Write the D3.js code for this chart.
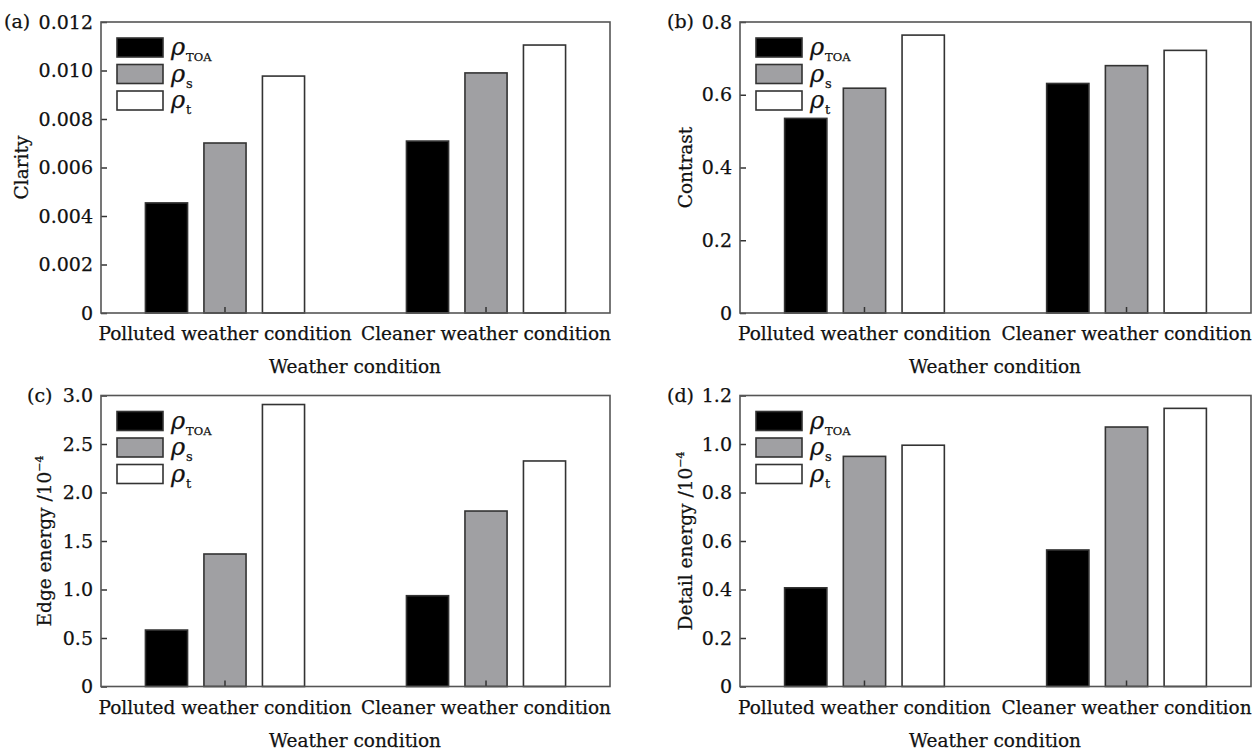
<html>
<head>
  <title>Weather condition bar charts</title>
  <script src="https://d3js.org/d3.v7.min.js"></script>
  <style>
    body { margin: 0; background: #fff; }
    text { font-family: 'DejaVu Serif', serif; fill: #111; stroke: #111; stroke-width: 0.25px; }
  </style>
</head>
<body>
<svg id="chart" width="1260" height="751"></svg>
<script>

// data
var categories = ["Polluted weather condition", "Cleaner weather condition"];
var seriesKeys = ["TOA", "s", "t"];
var seriesFill = ["#000000", "#a0a0a3", "#ffffff"];

// values per category: [rho_TOA, rho_s, rho_t]
var clarityValues  = [[0.00454, 0.00701, 0.00977], [0.00709, 0.00990, 0.01105]];
var contrastValues = [[0.535, 0.618, 0.764], [0.631, 0.680, 0.722]];
var edgeValues     = [[0.582, 1.366, 2.907], [0.936, 1.809, 2.325]];
var detailValues   = [[0.407, 0.949, 0.995], [0.563, 1.070, 1.147]];

var clarityTicks  = [0, 0.002, 0.004, 0.006, 0.008, 0.010, 0.012];
var clarityLabels = ["0", "0.002", "0.004", "0.006", "0.008", "0.010", "0.012"];
var contrastTicks  = [0, 0.2, 0.4, 0.6, 0.8];
var contrastLabels = ["0", "0.2", "0.4", "0.6", "0.8"];
var edgeTicks  = [0, 0.5, 1.0, 1.5, 2.0, 2.5, 3.0];
var edgeLabels = ["0", "0.5", "1.0", "1.5", "2.0", "2.5", "3.0"];
var detailTicks  = [0, 0.2, 0.4, 0.6, 0.8, 1.0, 1.2];
var detailLabels = ["0", "0.2", "0.4", "0.6", "0.8", "1.0", "1.2"];

var svg = d3.select("#chart");

// layout of the four panels
var panels = [
  {tag: "(a)", values: clarityValues, ticks: clarityTicks, labels: clarityLabels, title: "Clarity", sup: null,
   left: 101, top: 22, w: 509, h: 291, tagX: 4, titleX: 22},
  {tag: "(b)", values: contrastValues, ticks: contrastTicks, labels: contrastLabels, title: "Contrast", sup: null,
   left: 740, top: 22, w: 511, h: 291, tagX: 667, titleX: 686},
  {tag: "(c)", values: edgeValues, ticks: edgeTicks, labels: edgeLabels, title: "Edge energy /10", sup: "\u22124",
   left: 101, top: 395.5, w: 509, h: 291, tagX: 27, titleX: 45},
  {tag: "(d)", values: detailValues, ticks: detailTicks, labels: detailLabels, title: "Detail energy /10", sup: "\u22124",
   left: 740, top: 395.5, w: 511, h: 291, tagX: 667, titleX: 686}
];

panels.forEach(function(p) {
  var g = svg.append("g").attr("transform", "translate(" + p.left + "," + p.top + ")");

  var x0 = d3.scaleBand().domain(categories).range([0, p.w]).paddingInner(0.05);
  var half = p.w * 0.1724;
  var x1 = d3.scaleBand().domain(seriesKeys).range([-half, half]).paddingInner(0.28).paddingOuter(0.14);
  var y = d3.scaleLinear()
    .domain([0, p.ticks[p.ticks.length - 1]])
    .range([p.h, 0]);

  // bars
  var groups = g.selectAll("g.grp")
    .data(categories)
    .enter().append("g")
      .attr("class", "grp")
      .attr("transform", function(d) { return "translate(" + (x0(d) + x0.bandwidth() / 2) + ",0)"; });

  groups.selectAll("rect")
    .data(function(d, i) { return p.values[i]; })
    .enter().append("rect")
      .attr("x", function(d, j) { return x1(seriesKeys[j]); })
      .attr("width", x1.bandwidth())
      .attr("y", function(d) { return y(d); })
      .attr("height", function(d) { return p.h - y(d); })
      .attr("fill", function(d, j) { return seriesFill[j]; })
      .attr("stroke", "#333")
      .attr("stroke-width", 1.6);

  // y axis, ticks pointing in
  var yAxis = d3.axisLeft(y)
    .tickValues(p.ticks)
    .tickSizeInner(-6)
    .tickSizeOuter(0)
    .tickPadding(8)
    .tickFormat(function(d, i) { return p.labels[i]; });
  var ya = g.append("g").call(yAxis);
  ya.select(".domain").remove();
  ya.selectAll("line").attr("stroke", "#333").attr("stroke-width", 1.5);
  ya.selectAll("text").attr("font-size", 19).attr("fill", "#111").attr("font-family", null);

  // x axis, ticks pointing up
  var xAxis = d3.axisBottom(x0)
    .tickSizeInner(-6)
    .tickSizeOuter(0)
    .tickPadding(14);
  var xa = g.append("g").attr("transform", "translate(0," + p.h + ")").call(xAxis);
  xa.select(".domain").remove();
  xa.selectAll("line").attr("stroke", "#333").attr("stroke-width", 1.5);
  xa.selectAll("text").attr("font-size", 18.5).attr("fill", "#111").attr("font-family", null);

  // frame
  g.append("rect")
    .attr("width", p.w).attr("height", p.h)
    .attr("fill", "none")
    .attr("stroke", "#555")
    .attr("stroke-width", 1.6);

  // legend
  var leg = g.append("g").attr("transform", "translate(16,16)");
  seriesKeys.forEach(function(k, j) {
    var row = leg.append("g").attr("transform", "translate(0," + (j * 26.5) + ")");
    row.append("rect")
      .attr("width", 46).attr("height", 19)
      .attr("fill", seriesFill[j])
      .attr("stroke", "#333").attr("stroke-width", 1.6);
    var t = row.append("text").attr("x", 54).attr("y", 17);
    t.append("tspan").text("\u03c1").attr("font-style", "italic").attr("font-size", 24);
    t.append("tspan").text(k).attr("font-size", k == "TOA" ? 11.5 : 13).attr("dy", 6).attr("dx", 1);
  });

  // axis titles
  g.append("text")
    .attr("x", p.w / 2 - 0.5)
    .attr("y", p.h + 60)
    .attr("text-anchor", "middle")
    .attr("font-size", 18.5)
    .text("Weather condition");

  var yt = svg.append("text")
    .attr("transform", "translate(" + p.titleX + "," + (p.top + p.h / 2) + ") rotate(-90)")
    .attr("text-anchor", "middle")
    .attr("dy", "0.35em")
    .attr("font-size", 18.5);
  yt.append("tspan").text(p.title);
  if (p.sup) {
    yt.append("tspan").text(p.sup).attr("font-size", 11).attr("dy", -8);
  }

  // panel tag
  svg.append("text")
    .attr("x", p.tagX)
    .attr("y", p.top + 6)
    .attr("font-size", 19)
    .text(p.tag);
});

</script>
</body>
</html>
